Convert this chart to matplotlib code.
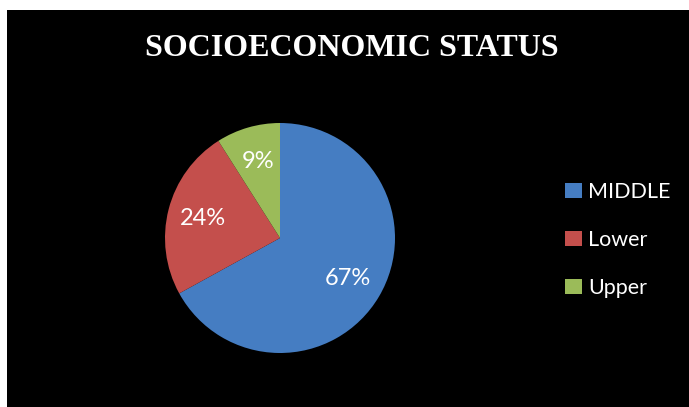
import matplotlib.pyplot as plt
from matplotlib.patches import Rectangle, Patch

# data
labels = ["MIDDLE", "Lower", "Upper"]
values = [67, 24, 9]
colors = ["#457dc2", "#c44f4c", "#9bbb59"]

fig = plt.figure(figsize=(6.89, 4.07), dpi=100, facecolor="white")

# black chart area (white margin on left/top only)
fig.patches.append(Rectangle((7 / 689, 0), 1, 1 - 10 / 407, transform=fig.transFigure,
                             facecolor="black", edgecolor="none", zorder=-5))

ax = fig.add_axes([165 / 689, (407 - 353) / 407, 230 / 689, 230 / 407])
ax.set_facecolor("none")
wedges, texts, autotexts = ax.pie(
    values, colors=colors, startangle=90, counterclock=False,
    autopct="%d%%", pctdistance=0.69,
    wedgeprops=dict(edgecolor="none"),
    textprops=dict(color="white", fontsize=17, family="Lato"))
ax.set_xlim(-1.0, 1.0)
ax.set_ylim(-1.0, 1.0)
ax.set_aspect("equal")
ax.axis("off")

fig.text(352 / 689, 1 - 48 / 407, "SOCIOECONOMIC STATUS", color="white",
         fontsize=23, fontweight="bold", family="Liberation Serif",
         ha="center", va="center")

handles = [Patch(facecolor=c, edgecolor="none") for c in colors]
fig.legend(handles, labels, loc="center left", bbox_to_anchor=(546 / 689, 1 - 240 / 407),
           frameon=False, handlelength=0.75, handleheight=0.75, handletextpad=0.3,
           labelspacing=1.3, prop=dict(family="Lato", size=15.5), labelcolor="white")

fig.savefig("out.png", dpi=100, facecolor=fig.get_facecolor())
